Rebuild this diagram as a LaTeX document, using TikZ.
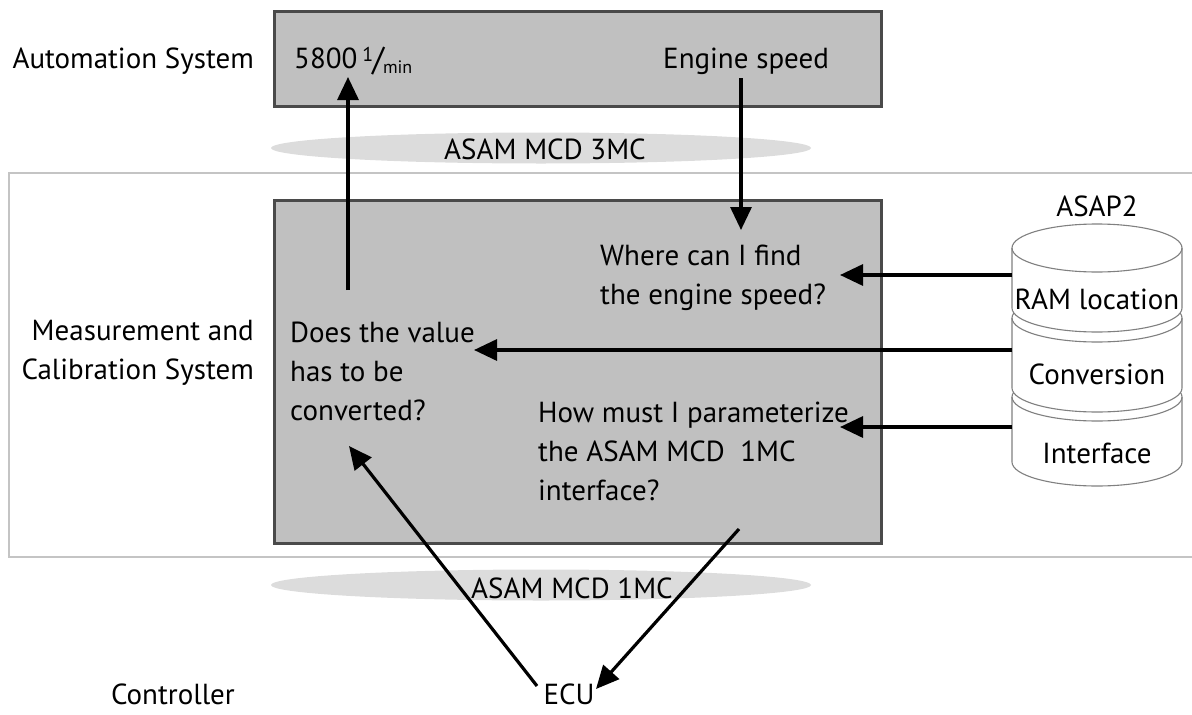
\documentclass[tikz,border=0pt]{standalone}
\usepackage{fontspec}
\setmainfont{PT Sans}
\usetikzlibrary{arrows.meta}
\definecolor{boxfill}{HTML}{C0C0C0}
\definecolor{boxline}{HTML}{4A4A4A}
\definecolor{ellfill}{HTML}{DCDCDC}
\definecolor{outerline}{HTML}{C4C4C4}
\definecolor{cylline}{HTML}{808080}
\tikzset{
  lbl/.style={inner sep=0pt, font=\fontsize{29}{39}\selectfont},
  mlbl/.style={lbl, align=left},
  sysbox/.style={fill=boxfill, draw=boxline, line width=2.7pt},
  band/.style={fill=ellfill, draw=none},
  arr/.style={line width=3.2pt, -{Triangle[length=23pt,width=21pt]}},
  cyl/.style={fill=white, draw=cylline, line width=1.1pt},
}
\begin{document}
\begin{tikzpicture}[x={(1pt,0)}, y={(0,-1pt)}]
\useasboundingbox (0,0) rectangle (1192,715);
% outer frame
\draw[outerline, line width=2pt] (1200,173) -- (9,173) -- (9,557) -- (1200,557);
% boxes
\node[sysbox, minimum width=607pt, minimum height=95pt, anchor=north west] (auto) at (273,10) {};
\node[sysbox, minimum width=607pt, minimum height=343pt, anchor=north west] (mcs) at (273,199) {};
% bands
\fill[band] (541,148) ellipse[x radius=270pt, y radius=15.5pt];
\fill[band] (541,585) ellipse[x radius=270pt, y radius=15.5pt];
\node[lbl, anchor=base] (mc3) at (545,159) {ASAM MCD 3MC};
\node[lbl, anchor=base] (mc1) at (572,598) {ASAM MCD 1MC};
% left labels
\node[lbl, anchor=base east] (lauto) at (254,68) {Automation System};
\node[mlbl, anchor=north east, align=right] (lmcs) at (254,320) {Measurement and\\Calibration System};
\node[lbl, anchor=base east] (lctrl) at (235,704) {Controller};
\node[lbl, anchor=base] (ecu) at (569,704) {ECU};
% texts in top box
\node[lbl, anchor=base west] (rpm) at (294,68) {5800\kern5pt\raisebox{0.45ex}{\fontsize{20}{20}\selectfont 1}\kern-1pt\raisebox{-0.15ex}{\fontsize{33}{33}\selectfont /}\kern-1pt\raisebox{-0.35ex}{\fontsize{18}{18}\selectfont min}};
\node[lbl, anchor=base west] (speed) at (663,68) {Engine speed};
% texts in MC box
\node[mlbl, anchor=north west] (where) at (600,245) {Where can I find\\the engine speed?};
\node[mlbl, anchor=north west] (conv) at (290,322) {Does the value\\has to be\\converted?};
\node[mlbl, anchor=north west] (how) at (538,402) {How must I parameterize\\the ASAM MCD\ \ 1MC\\interface?};
% database stack
\def\cylinder#1#2{%
  \filldraw[cyl] (1012,#1) -- (1012,#2) arc[start angle=180,end angle=360,x radius=85pt,y radius=24pt]
     -- (1182,#1) arc[start angle=0,end angle=180,x radius=85pt,y radius=24pt] -- cycle;
  \draw[cyl, fill=none] (1012,#1) arc[start angle=180,end angle=360,x radius=85pt,y radius=24pt];}
\cylinder{397}{462}
\cylinder{318}{388}
\cylinder{248}{308}
\node[lbl, anchor=base] (asap) at (1097,216) {ASAP2};
\node[lbl, anchor=base] (ram) at (1097,309) {RAM location};
\node[lbl, anchor=base] (cnv) at (1097,384) {Conversion};
\node[lbl, anchor=base] (ifc) at (1097,463) {Interface};
% connector coordinates
\coordinate (ramL) at (1012,275);
\coordinate (cnvL) at (1012,350);
\coordinate (ifcL) at (1012,427);
\coordinate (whereT) at (840,275);
\coordinate (convT) at (474,350);
\coordinate (howT) at (840,427);
\coordinate (upS) at (348,290);
\coordinate (upT) at (348,77);
\coordinate (dnS) at (741,78);
\coordinate (dnT) at (741,230);
\coordinate (ecuL) at (537,686);
\coordinate (convB) at (349,446);
\coordinate (howB) at (739,529);
\coordinate (ecuR) at (596,689);
% arrows
\draw[arr] (upS) -- (upT);
\draw[arr] (dnS) -- (dnT);
\draw[arr] (ramL) -- (whereT);
\draw[arr] (cnvL) -- (convT);
\draw[arr] (ifcL) -- (howT);
\draw[arr] (ecuL) -- (convB);
\draw[arr] (howB) -- (ecuR);
\end{tikzpicture}
\end{document}
